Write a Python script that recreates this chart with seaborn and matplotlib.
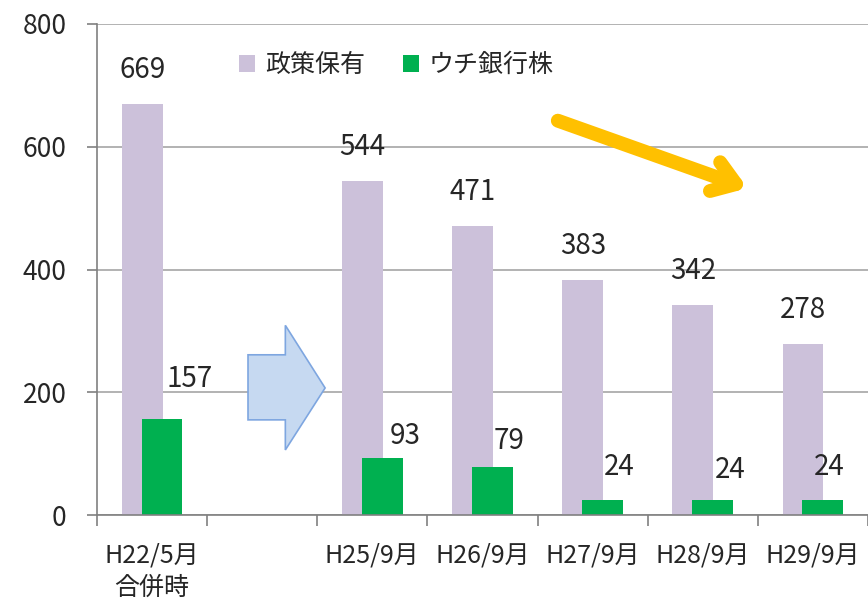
import seaborn as sns
import matplotlib.pyplot as plt
import numpy as np
import pandas as pd
from matplotlib.patches import Polygon, FancyArrowPatch

categorias = ['H22/5月\n合併時', '', 'H25/9月', 'H26/9月', 'H27/9月', 'H28/9月', 'H29/9月']
seisaku = [669, np.nan, 544, 471, 383, 342, 278]
uchi_ginko = [157, np.nan, 93, 79, 24, 24, 24]
# desplazamiento (px) de las etiquetas verdes
off_verde = [(28, 40), None, (23, 22), (17, 26), (17, 33), (18, 30), (6, 33)]

col_morado = '#CCC1DA'
col_verde = '#00B050'

sns.set_style('white')
plt.rcParams['font.family'] = ['Noto Sans CJK JP', 'DejaVu Sans']

df = pd.DataFrame({'cat': categorias, 'seisaku': seisaku, 'uchi': uchi_ginko})

fig = plt.figure(figsize=(8.68, 6.04), dpi=100)
ax = fig.add_axes([97 / 868, 1 - 515 / 604, 771 / 868, 491 / 604])

ancho = 0.37
desp = 0.09
sns.barplot(data=df, x='cat', y='seisaku', order=categorias, color=col_morado,
            width=ancho, saturation=1, linewidth=0, ax=ax, label='政策保有')
n1 = len(ax.patches)
sns.barplot(data=df, x='cat', y='uchi', order=categorias, color=col_verde,
            width=ancho, saturation=1, linewidth=0, ax=ax, label='ウチ銀行株')
for i, p in enumerate(ax.patches):
    p.set_x(p.get_x() + (-desp if i < n1 else desp))

ax.set_ylim(0, 800)
ax.set_xlim(-0.5, len(categorias) - 0.5)
ax.set_yticks([0, 200, 400, 600, 800])
ax.yaxis.grid(True, color='#A6A6A6', lw=1.2)
ax.set_axisbelow(True)
ax.tick_params(axis='y', labelsize=19, length=7, width=1.2, color='#808080', pad=15, left=True)
ax.set_xlabel('')
ax.set_ylabel('')

# ticks en los limites, etiquetas en los centros
ax.set_xticks(np.arange(len(categorias) + 1) - 0.5)
ax.set_xticklabels([])
ax.set_xticks(np.arange(len(categorias)), minor=True)
ax.set_xticklabels(categorias, minor=True, fontsize=18, linespacing=1.3)
ax.tick_params(axis='x', which='major', length=8, width=1.2, color='#808080', bottom=True)
ax.tick_params(axis='x', which='minor', length=0, pad=20)

for s in ['top', 'right']:
    ax.spines[s].set_visible(False)
for s in ['left', 'bottom']:
    ax.spines[s].set_color('#808080')
    ax.spines[s].set_linewidth(1.2)

# etiquetas de datos
for i, v in enumerate(seisaku):
    if np.isnan(v):
        continue
    ax.annotate(f'{int(v)}', (i - desp, v), xytext=(0, 34), textcoords='offset pixels',
                ha='center', va='center', fontsize=20)
for i, v in enumerate(uchi_ginko):
    if np.isnan(v):
        continue
    dx, dy = off_verde[i]
    ax.annotate(f'{int(v)}', (i + desp, v), xytext=(dx, dy), textcoords='offset pixels',
                ha='center', va='center', fontsize=20)

ax.legend(loc='center left', bbox_to_anchor=(0.155, 0.916), ncol=2, frameon=False,
          fontsize=18, handlelength=0.65, handleheight=0.65, handletextpad=0.4,
          columnspacing=1.5)

# flecha azul
fl = Polygon([(0.871, 261), (1.21, 261), (1.21, 309), (1.571, 207),
              (1.21, 106), (1.21, 155), (0.871, 155)], closed=True,
             facecolor='#C6D9F1', edgecolor='#7EA6E0', lw=1.2, zorder=3)
ax.add_patch(fl)

# flecha amarilla
fa = FancyArrowPatch((3.66, 644), (5.43, 531), arrowstyle='->,head_length=0.8,head_width=0.55',
                     mutation_scale=20, color='#FFC000', lw=10, capstyle='round',
                     joinstyle='round', zorder=3)
ax.add_patch(fa)

fig.savefig('out.png', dpi=100)
